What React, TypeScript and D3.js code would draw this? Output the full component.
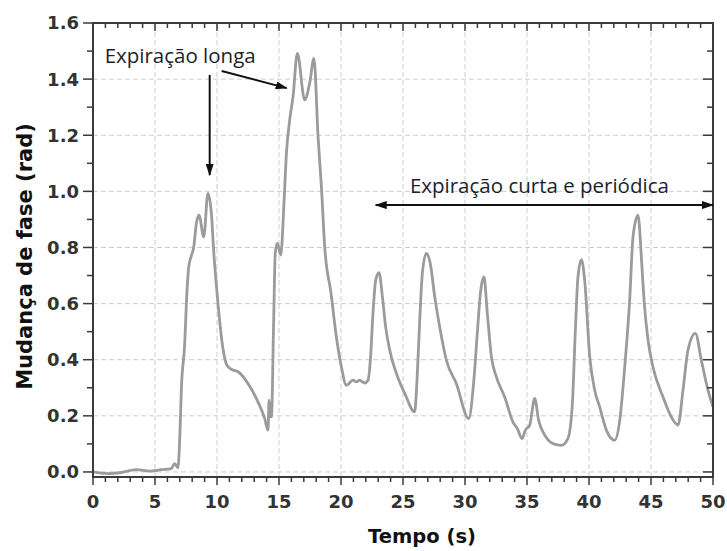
import React from "react";
import * as d3 from "d3";

// time (s) and phase change (rad)
const tempo = [
  0, 1.2, 2.3, 3.5, 4.6, 5.5, 6.3, 6.6, 6.85, 7.0, 7.13, 7.4, 7.53, 7.72, 7.93, 8.12, 8.34, 8.55, 8.93,
  9.27, 9.55, 9.73, 10.08, 10.48, 10.8, 11.2, 11.7, 12.5, 13.3, 13.85, 14.11, 14.2, 14.3, 14.39, 14.57,
  14.7, 14.87, 15.14, 15.4, 15.6, 15.86, 16.13, 16.48, 17.07, 17.47, 17.82, 18.15, 18.42, 18.69, 19.2,
  19.63, 20.03, 20.43, 20.97, 21.24, 21.5, 21.9, 22.18, 22.37, 22.58, 22.8, 23.07, 23.34, 23.6, 23.93,
  24.47, 25.14, 25.94, 26.13, 26.35, 26.56, 26.88, 27.2, 27.56, 27.96, 28.5, 29.3, 30.3, 30.7, 31.0,
  31.25, 31.53, 31.8, 32.13, 32.53, 33.2, 33.87, 34.22, 34.6, 34.87, 35.22, 35.62, 35.94, 36.43, 37.1,
  37.77, 38.3, 38.66, 38.9, 39.11, 39.39, 39.65, 40.06, 40.46, 40.86, 41.4, 42.07, 42.48, 42.88, 43.28,
  43.55, 43.95, 44.27, 44.44, 44.76, 45.16, 45.97, 46.64, 47.18, 47.58, 47.98, 48.58, 49.06, 49.6, 50,
];
const fase = [
  0.0, -0.006, -0.002, 0.008, 0.003, 0.008, 0.012, 0.03, 0.015, 0.125, 0.3, 0.46, 0.6, 0.73, 0.77, 0.8,
  0.887, 0.915, 0.838, 0.993, 0.92, 0.79, 0.6, 0.44, 0.38, 0.365, 0.357, 0.315, 0.25, 0.19, 0.149, 0.256,
  0.2, 0.196, 0.54, 0.78, 0.815, 0.773, 0.957, 1.137, 1.254, 1.337, 1.492, 1.326, 1.385, 1.474, 1.195,
  1.016, 0.8, 0.636, 0.48, 0.375, 0.309, 0.327, 0.321, 0.327, 0.317, 0.327, 0.4, 0.565, 0.684, 0.71,
  0.624, 0.517, 0.434, 0.351, 0.28, 0.214, 0.327, 0.541, 0.708, 0.779, 0.743, 0.624, 0.517, 0.398,
  0.315, 0.19, 0.32, 0.5, 0.64, 0.695, 0.565, 0.41, 0.339, 0.267, 0.178, 0.155, 0.119, 0.149, 0.167,
  0.262, 0.184, 0.131, 0.101, 0.095, 0.119, 0.244, 0.505, 0.695, 0.757, 0.684, 0.41, 0.291, 0.232,
  0.149, 0.113, 0.184, 0.374, 0.612, 0.838, 0.915, 0.731, 0.612, 0.47, 0.374, 0.267, 0.196, 0.167,
  0.291, 0.434, 0.494, 0.398, 0.291, 0.232,
];

const xTicks = [0, 5, 10, 15, 20, 25, 30, 35, 40, 45, 50];
const yTicks = [0, 0.2, 0.4, 0.6, 0.8, 1.0, 1.2, 1.4, 1.6];
const xMinor = d3.range(0, 51, 1);
const yMinor = d3.range(0, 17, 1).map((i) => i / 10);

const xTitle = "Tempo (s)";
const yTitle = "Mudança de fase (rad)";
const noteLonga = "Expiração longa";
const noteCurta = "Expiração curta e periódica";

const width = 727;
const height = 551;
const margin = { top: 23, right: 14, bottom: 74, left: 93 };

const App = () => {
  const x = d3.scaleLinear().domain([0, 50]).range([margin.left, width - margin.right]);
  const y = d3.scaleLinear().domain([-0.018, 1.6]).range([height - margin.bottom, margin.top]);

  const pts = tempo.map((t, i) => [t, fase[i]] as [number, number]);
  const line = d3
    .line<[number, number]>()
    .x((d) => x(d[0]))
    .y((d) => y(d[1]))
    .curve(d3.curveMonotoneX);

  const x0 = x(0), x1 = x(50), yb = y.range()[0], yt = y.range()[1];
  const tickFont = { fontFamily: "DejaVu Sans", fontWeight: "bold", fontSize: 18, fill: "#333" };
  const noteFont = { fontFamily: "Open Sans", fontSize: 20.5, fill: "#1c1f2a" };

  return (
    <svg width={width} height={height} style={{ position: "absolute", left: 0, top: 0, background: "#fff" }}>
      <defs>
        <marker id="head" viewBox="0 0 12 8" refX="11" refY="4" markerWidth="12" markerHeight="8"
          markerUnits="userSpaceOnUse" orient="auto-start-reverse">
          <path d="M0,0 L12,4 L0,8 Z" fill="#111" />
        </marker>
      </defs>

      {/* grid */}
      <g stroke="#cdcdcd" strokeWidth={1} strokeDasharray="5,3">
        {xTicks.filter((t) => t > 0 && t < 50).map((t) => (
          <line key={"gx" + t} x1={x(t)} x2={x(t)} y1={yb} y2={yt} />
        ))}
        {yTicks.filter((t) => t < 1.6).map((t) => (
          <line key={"gy" + t} x1={x0} x2={x1} y1={y(t)} y2={y(t)} />
        ))}
      </g>

      {/* data */}
      <path d={line(pts) || ""} fill="none" stroke="#9b9b9b" strokeWidth={2.8} strokeLinejoin="round" />

      {/* ticks */}
      <g stroke="#3a3a3a" strokeWidth={1.5}>
        {xMinor.map((t) => {
          const len = t % 5 === 0 ? 8 : 5;
          return (
            <g key={"tx" + t}>
              <line x1={x(t)} x2={x(t)} y1={yb} y2={yb + len} />
              <line x1={x(t)} x2={x(t)} y1={yt} y2={yt + len} />
            </g>
          );
        })}
        {yMinor.map((v, i) => {
          const len = i % 2 === 0 ? 10 : 6;
          return (
            <g key={"ty" + i}>
              <line x1={x0 - len} x2={x0} y1={y(v)} y2={y(v)} />
              <line x1={x1 - len} x2={x1} y1={y(v)} y2={y(v)} />
            </g>
          );
        })}
      </g>

      {/* frame */}
      <rect x={x0} y={yt} width={x1 - x0} height={yb - yt} fill="none" stroke="#3a3a3a" strokeWidth={2} />

      {/* tick labels */}
      {xTicks.map((t) => (
        <text key={"lx" + t} x={x(t)} y={yb + 31} textAnchor="middle" style={tickFont}>
          {t}
        </text>
      ))}
      {yTicks.map((t) => (
        <text key={"ly" + t} x={x0 - 14} y={y(t)} dy="0.36em" textAnchor="end" style={tickFont}>
          {t.toFixed(1)}
        </text>
      ))}

      {/* axis titles */}
      <text x={422} y={543} textAnchor="middle"
        style={{ fontFamily: "DejaVu Sans", fontWeight: "bold", fontSize: 19.5, fill: "#111" }}>
        {xTitle}
      </text>
      <text transform={`translate(32,${(123 + 390) / 2}) rotate(-90)`} textAnchor="middle"
        style={{ fontFamily: "DejaVu Sans", fontWeight: "bold", fontSize: 21, fill: "#111" }}>
        {yTitle}
      </text>

      {/* annotations */}
      <text x={x(0.94)} y={y(1.456)} style={noteFont}>{noteLonga}</text>
      <g stroke="#111" strokeWidth={2} markerEnd="url(#head)">
        <line x1={x(9.41)} y1={y(1.415)} x2={x(9.41)} y2={y(1.058)} />
        <line x1={x(10.38)} y1={y(1.429)} x2={x(15.62)} y2={y(1.368)} />
      </g>
      <text x={x(36.0)} y={y(0.994)} textAnchor="middle" style={noteFont}>{noteCurta}</text>
      <line x1={x(22.8)} y1={y(0.951)} x2={x(50)} y2={y(0.951)} stroke="#111" strokeWidth={2}
        markerStart="url(#head)" markerEnd="url(#head)" />
    </svg>
  );
};

export default App;
